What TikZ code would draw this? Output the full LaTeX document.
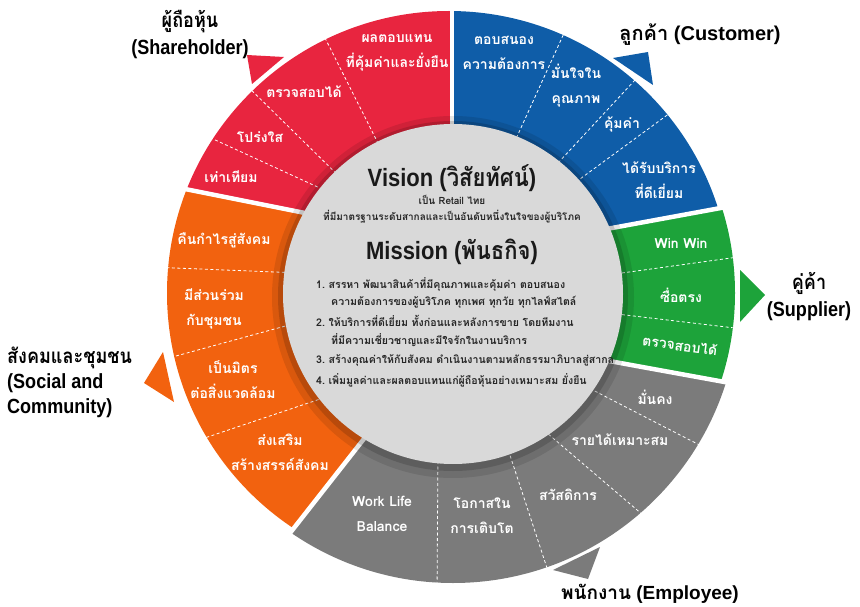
\documentclass[tikz,border=0pt]{standalone}
\usepackage{fontspec}
\setmainfont{Liberation Sans}
\newfontfamily\condfont[FakeStretch=0.88]{Liberation Sans}
\newfontfamily\thaifont[Script=Thai]{Loma}
\newfontfamily\thaicond[Script=Thai,FakeStretch=0.88]{Loma}
\definecolor{cred}{HTML}{E8253F}
\definecolor{cblue}{HTML}{0F5DA8}
\definecolor{cgreen}{HTML}{1DA33A}
\definecolor{cgray}{HTML}{7B7B7B}
\definecolor{corange}{HTML}{F2620F}
\definecolor{cdisk}{HTML}{D9D9D9}
\begin{document}
\begin{tikzpicture}[x=1pt,y=-1pt,
  gap/.style={white,line width=4.5pt},
  sep/.style={white,line width=0.8pt,dash pattern=on 3pt off 2.5pt},
  ringtxt/.style={text=white,font=\thaifont\bfseries\fontsize{14}{25}\selectfont,align=center,inner sep=1pt},
  outlbl/.style={text=black,font=\condfont\bfseries\fontsize{20.5}{27}\selectfont,align=center,inner sep=0pt},
  wide/.style={font=\bfseries\fontsize{19}{23}\selectfont},
  head/.style={text=black!90,font=\condfont\bfseries\fontsize{25}{27}\selectfont,inner sep=0pt},
  vis/.style={text=black!85,font=\thaifont\bfseries\fontsize{10}{12}\selectfont,inner sep=0pt},
  mis/.style={text=black!85,font=\thaifont\bfseries\fontsize{10.6}{12}\selectfont,inner sep=0pt,anchor=west}]
\useasboundingbox (0,0) rectangle (860,607);
% sectors
\begin{scope}
\clip (449,293) -- (324.5,216.9) -- (106.5,173.3) -- (60,-60) -- (452,-60) -- (452,140) -- cycle;
\fill[cred] (449,293) circle[radius=282];
\end{scope}
\begin{scope}
\clip (449,293) -- (452,140) -- (452,-60) -- (840,-60) -- (788.6,195.5) -- (588.6,232.3) -- cycle;
\fill[cblue] (449,293) circle[radius=282];
\end{scope}
\begin{scope}
\clip (449,293) -- (588.6,232.3) -- (788.6,195.5) -- (840,300) -- (808.7,397.3) -- (585.6,356.7) -- cycle;
\fill[cgreen] (453,293) circle[radius=282];
\end{scope}
\begin{scope}
\clip (449,293) -- (585.6,356.7) -- (808.7,397.3) -- (840,660) -- (200,660) -- (240.6,596) -- (384.6,412.5) -- cycle;
\fill[cgray] (453,297) circle[radius=286];
\end{scope}
\begin{scope}
\clip (449,293) -- (384.6,412.5) -- (240.6,596) -- (20,660) -- (106.5,173.3) -- (324.5,216.9) -- cycle;
\fill[corange] (449,293) circle[radius=282];
\end{scope}
% pointers
\fill[cred] (247,55) -- (284,57) -- (252,84) -- cycle;
\fill[cblue] (613,58) -- (648,52) -- (653,85) -- cycle;
\fill[cgreen] (740,270) -- (765,295) -- (740,322) -- cycle;
\fill[cgray] (553,570) -- (600,547) -- (588,579) -- cycle;
\fill[corange] (163,352) -- (174,402) -- (144,383) -- cycle;
% gaps
\draw[gap] (452,140) -- (452,-5);
\draw[gap] (324.5,216.9) -- (106.5,173.3);
\draw[gap] (588.6,232.3) -- (788.6,195.5);
\draw[gap] (585.6,356.7) -- (808.7,397.3);
\draw[gap] (384.6,412.5) -- (240.6,596);
% dashed separators
\draw[sep] (200,133) -- (335,195);
\draw[sep] (240,79) -- (350,187);
\draw[sep] (320,28) -- (385,157);
\draw[sep] (570,20) -- (510,152);
\draw[sep] (635,80) -- (545,177);
\draw[sep] (685,102) -- (565,190);
\draw[sep] (600,276) -- (760,254);
\draw[sep] (600,312) -- (760,331);
\draw[sep] (585,386) -- (715,453);
\draw[sep] (540,427) -- (650,521);
\draw[sep] (505,440) -- (547,568);
\draw[sep] (438,450) -- (437,595);
\draw[sep] (150,267) -- (300,273);
\draw[sep] (176,356) -- (300,322);
\draw[sep] (175,448) -- (335,394);
% central disk
\fill[black,opacity=0.10] (453,297) circle[radius=181];
\fill[black,opacity=0.15] (453,296) circle[radius=175];
\fill[cdisk] (453,294) circle[radius=170];
% centre texts
\node[head] (vision) at (452,178) {Vision ({\thaicond วิสัยทัศน์})};
\node[vis] (vis1) at (452,200) {เป็น Retail ไทย};
\node[vis] (vis2) at (452,217) {ที่มีมาตรฐานระดับสากลและเป็นอันดับหนึ่งในใจของผู้บริโภค};
\node[head] (mission) at (452,252) {Mission ({\thaicond พันธกิจ})};
\node[mis] (m1a) at (316,284) {1.\ สรรหา พัฒนาสินค้าที่มีคุณภาพและคุ้มค่า ตอบสนอง};
\node[mis] (m1b) at (331,302) {ความต้องการของผู้บริโภค ทุกเพศ ทุกวัย ทุกไลฟ์สไตล์};
\node[mis] (m2a) at (316,321) {2.\ ให้บริการที่ดีเยี่ยม ทั้งก่อนและหลังการขาย โดยทีมงาน};
\node[mis] (m2b) at (331,340) {ที่มีความเชี่ยวชาญและมีใจรักในงานบริการ};
\node[mis] (m3) at (316,360) {3.\ สร้างคุณค่าให้กับสังคม ดำเนินงานตามหลักธรรมาภิบาลสู่สากล};
\node[mis] (m4) at (316,380) {4.\ เพิ่มมูลค่าและผลตอบแทนแก่ผู้ถือหุ้นอย่างเหมาะสม ยั่งยืน};
% red labels
\node[ringtxt] (r1) at (397,53) {ผลตอบแทน\\ที่คุ้มค่าและยั่งยืน};
\node[ringtxt] (r2) at (304,92) {ตรวจสอบได้};
\node[ringtxt] (r3) at (260,137) {โปร่งใส};
\node[ringtxt] (r4) at (231,177) {เท่าเทียม};
% blue labels
\node[ringtxt] (b1) at (504,53) {ตอบสนอง\\ความต้องการ};
\node[ringtxt] (b2) at (576,86) {มั่นใจใน\\คุณภาพ};
\node[ringtxt] (b3) at (622,124) {คุ้มค่า};
\node[ringtxt] (b4) at (659,180) {ได้รับบริการ\\ที่ดีเยี่ยม};
% green labels
\node[ringtxt] (g1) at (681,243) {Win Win};
\node[ringtxt] (g2) at (681,295) {ซื่อตรง};
\node[ringtxt,rotate=-8] (g3) at (680,345) {ตรวจสอบได้};
% gray labels
\node[ringtxt] (e1) at (655,397) {มั่นคง};
\node[ringtxt] (e2) at (620,440) {รายได้เหมาะสม};
\node[ringtxt] (e3) at (568,495) {สวัสดิการ};
\node[ringtxt] (e4) at (482,516) {โอกาสใน\\การเติบโต};
\node[ringtxt] (e5) at (382,514) {Work Life\\Balance};
% orange labels
\node[ringtxt] (o1) at (224,240) {คืนกำไรสู่สังคม};
\node[ringtxt] (o2) at (214,309) {มีส่วนร่วม\\กับชุมชน};
\node[ringtxt] (o3) at (233,380) {เป็นมิตร\\ต่อสิ่งแวดล้อม};
\node[ringtxt] (o4) at (280,452) {ส่งเสริม\\สร้างสรรค์สังคม};
% outside labels
\node[outlbl] (sh) at (190,35) {{\thaicond ผู้ถือหุ้น}\\(Shareholder)};
\node[outlbl,wide,font=\bfseries\fontsize{20}{24}\selectfont] (cu) at (700,35) {{\thaifont ลูกค้า} (Customer)};
\node[outlbl] (su) at (809,297) {{\thaicond คู่ค้า}\\(Supplier)};
\node[outlbl,align=left,anchor=west,font=\condfont\bfseries\fontsize{20.5}{25}\selectfont] (so) at (7,382) {{\thaicond สังคมและชุมชน}\\(Social and\\Community)};
\node[outlbl,wide] (em) at (650,594) {{\thaifont พนักงาน} (Employee)};
\end{tikzpicture}
\end{document}
